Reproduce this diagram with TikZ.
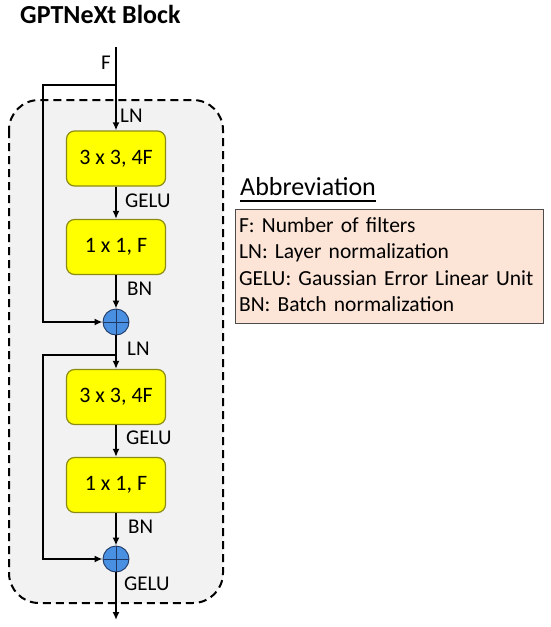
\documentclass[tikz,border=0pt]{standalone}
\usepackage{fontspec}
\setmainfont{Carlito}
\usetikzlibrary{arrows.meta,positioning}
\definecolor{convyellow}{HTML}{FFFF00}
\definecolor{convedge}{HTML}{8C8C14}
\definecolor{addblue}{HTML}{4A90E2}
\definecolor{addnavy}{HTML}{1F3864}
\definecolor{blockgray}{HTML}{F2F2F2}
\definecolor{notepeach}{HTML}{FCE4D6}

\begin{document}
\begin{tikzpicture}[x=1pt,y=-1pt,
  conv/.style={draw=convedge,line width=1.2pt,fill=convyellow,rounded corners=8pt,minimum width=99pt,minimum height=55pt,font=\fontsize{22}{26}\selectfont},
  addop/.style={circle,draw=addnavy,line width=0.9pt,fill=addblue,minimum size=26pt,inner sep=0pt},
  flow/.style={line width=2pt,-{Latex[length=8pt,width=7pt]}},
  lbl/.style={font=\fontsize{21}{25}\selectfont,inner sep=0pt,anchor=west}]
\useasboundingbox (0,0) rectangle (550,627);
% block outline
\draw[fill=blockgray,line width=2pt,dash pattern=on 8pt off 5pt,rounded corners=30pt] (9,100) rectangle (223,603);
\node[anchor=base west,inner sep=0pt,font=\fontsize{26}{30}\selectfont\bfseries] (title) at (20,23) {GPTNeXt Block};

\coordinate (inp) at (116,47);
\coordinate (skip1) at (116,85);
\node[conv] (c1) at (116,158.5) {3 x 3, 4F};
\node[conv] (c2) at (116,247) {1 x 1, F};
\node[addop] (a1) at (116,322) {};
\coordinate (skip2) at (116,355);
\node[conv] (c3) at (116,397) {3 x 3, 4F};
\node[conv] (c4) at (116,485) {1 x 1, F};
\node[addop] (a2) at (116,559) {};
\coordinate (outp) at (116,620);
\foreach \n in {a1,a2}{\draw[addnavy,line width=0.9pt] (\n.north)--(\n.south) (\n.west)--(\n.east);}

% main path
\draw[flow] (inp) -- (c1);
\draw[flow] (c1) -- (c2);
\draw[flow] (c2) -- (a1);
\draw[flow] (a1) -- (c3);
\draw[flow] (c3) -- (c4);
\draw[flow] (c4) -- (a2);
\draw[flow] (a2) -- (outp);
% residual paths
\draw[flow] (skip1) -- ++(-73,0) |- (a1);
\draw[flow] (skip2) -- ++(-73,0) |- (a2);

\node[lbl,anchor=east] (fl) at (111,63) {F};
\node[lbl] (ln1) at (120,116) {LN};
\node[lbl] (ge1) at (125,201) {GELU};
\node[lbl] (bn1) at (127,289) {BN};
\node[lbl] (ln2) at (127,349) {LN};
\node[lbl] (ge2) at (126,438) {GELU};
\node[lbl] (bn2) at (128,527) {BN};
\node[lbl] (ge3) at (124,584) {GELU};

% abbreviations
\node[anchor=base west,inner sep=0pt,font=\fontsize{26}{30}\selectfont] (abbr) at (240,195) {Abbreviation};
\draw[line width=1.4pt] ([yshift=-6pt]abbr.base west) -- ([yshift=-6pt]abbr.base east);
\node[draw=black!70,line width=1.2pt,fill=notepeach,anchor=north west,text width=301pt,inner xsep=3.5pt,inner ysep=4pt,align=left,font=\fontsize{21.5}{26.5}\selectfont] (legend) at (235,209)
  {\strut F: Number of filters\\ \strut LN: Layer normalization\\ \strut GELU: Gaussian Error Linear Unit\\ \strut BN: Batch normalization};
\end{tikzpicture}
\end{document}
